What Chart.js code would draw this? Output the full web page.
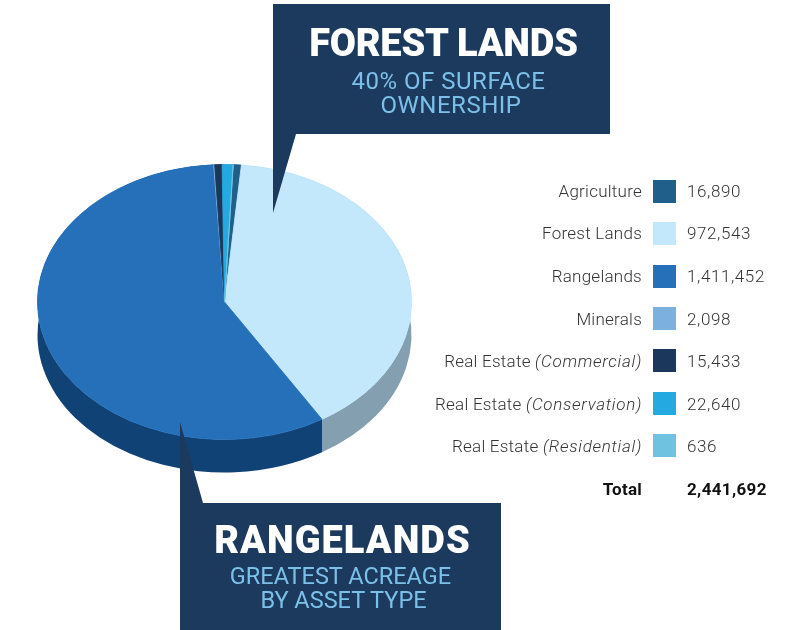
<!DOCTYPE html>
<html>
<head>
<meta charset="utf-8">
<script src="https://cdn.jsdelivr.net/npm/chart.js@4/dist/chart.umd.min.js"></script>
<style>
html,body{margin:0;padding:0;background:#fff;}
#stage{position:relative;width:803px;height:630px;overflow:hidden;font-family:Roboto,sans-serif;}
canvas{position:absolute;left:0;top:0;}
svg{position:absolute;left:0;top:0;}
.t{position:absolute;white-space:nowrap;line-height:1;}
.lab{right:161px;font-size:17px;font-weight:300;color:#333;letter-spacing:.25px;}
.lab i{letter-spacing:.7px;}
.val{left:687px;font-size:17px;font-weight:300;color:#333;letter-spacing:.6px;}
.sw{position:absolute;left:653px;width:23px;height:23px;}
.head{font-weight:900;color:#fff;text-align:center;}
.sub{font-weight:400;color:#7cc0ea;text-align:center;}
</style>
</head>
<body>
<div id="stage">
<canvas id="c" width="803" height="630"></canvas>
<svg width="803" height="630" id="callouts"></svg>
</div>
<script>
const categories = ['Agriculture','Forest Lands','Rangelands','Minerals','Real Estate (Commercial)','Real Estate (Conservation)','Real Estate (Residential)'];
const acres = [16890,972543,1411452,2098,15433,22640,636];
const valueLabels = ['16,890','972,543','1,411,452','2,098','15,433','22,640','636'];
const totalLabel = '2,441,692';
const topColors = ['#1f5f88','#c3e7fb','#2670ba','#7cb0dd','#1b385c','#25a9e1','#6fc3e0'];
const wallColors = ['#164565','#849faf','#104276','#5a84a8','#132a45','#1a7fa8','#5092a8'];
const calloutColor = '#1c3a5e';

const tilt = 137.5/187, depth = 33;

const tiltPlugin = {
  id:'tilt',
  beforeDatasetsDraw(chart){
    const ctx = chart.ctx, arcs = chart.getDatasetMeta(0).data;
    const cx = arcs[0].x, cy = arcs[0].y;
    ctx.save();
    ctx.translate(cx,cy); ctx.scale(1,tilt); ctx.translate(-cx,-cy);
    const D = depth/tilt;
    arcs.forEach((a,i)=>{
      ctx.beginPath();
      ctx.arc(a.x,a.y,a.outerRadius,a.startAngle,a.endAngle);
      ctx.arc(a.x,a.y+D,a.outerRadius,a.endAngle,a.startAngle,true);
      ctx.closePath();
      ctx.fillStyle = wallColors[i];
      ctx.fill();
    });
  },
  afterDatasetsDraw(chart){ chart.ctx.restore(); }
};

new Chart(document.getElementById('c'),{
  type:'pie',
  data:{labels:categories,datasets:[{data:acres,backgroundColor:topColors,borderColor:topColors,borderWidth:1}]},
  options:{
    responsive:false,maintainAspectRatio:false,animation:false,
    rotation:2.7,radius:187,
    layout:{padding:{left:0,right:354,top:0,bottom:26}},
    plugins:{legend:{display:false},tooltip:{enabled:false}}
  },
  plugins:[tiltPlugin]
});

const stage = document.getElementById('stage');
function add(cls,text,css){
  const d=document.createElement('div');d.className=cls;
  if(text!==null)d.innerHTML=text;
  Object.assign(d.style,css||{});stage.appendChild(d);return d;
}
const rowY=[191.5,233.5,276.5,318.5,360.5,403.5,445.5];
const textY=[191.5,233.5,276.5,319,361,404,446.5];
categories.forEach((c,i)=>{
  const html=c.replace(/\((.*)\)/,'<i>($1)</i>');
  add('t lab',html,{top:(textY[i]-8.5)+'px'});
  add('sw',null,{top:(rowY[i]-11.5)+'px',background:topColors[i]});
  add('t val',valueLabels[i],{top:(textY[i]-8.5)+'px'});
});
add('t lab','<b style="font-weight:700;color:#111">Total</b>',{top:'480.5px'});
add('t val','<b style="font-weight:700;color:#111;letter-spacing:.35px">'+totalLabel+'</b>',{top:'480.5px'});

document.getElementById('callouts').innerHTML=
 '<polygon fill="'+calloutColor+'" points="273,4 610,4 610,134 296,134 273,213"/>'+
 '<polygon fill="'+calloutColor+'" points="180,422 203,503 501,503 501,630 180,630"/>';

add('t head','FOREST LANDS',{left:'273px',width:'341px',top:'24px',fontSize:'38px',letterSpacing:'-.2px'});
add('t sub','40% OF SURFACE',{left:'273px',width:'351px',top:'69px',fontSize:'24px',letterSpacing:'.5px'});
add('t sub','OWNERSHIP',{left:'273px',width:'356px',top:'93px',fontSize:'24px',letterSpacing:'.5px'});
add('t head','RANGELANDS',{left:'180px',width:'325px',top:'521px',fontSize:'38px',letterSpacing:'1px'});
add('t sub','GREATEST ACREAGE',{left:'180px',width:'321px',top:'565px',fontSize:'23.5px'});
add('t sub','BY ASSET TYPE',{left:'180px',width:'327px',top:'589px',fontSize:'23.5px'});
</script>
</body>
</html>
